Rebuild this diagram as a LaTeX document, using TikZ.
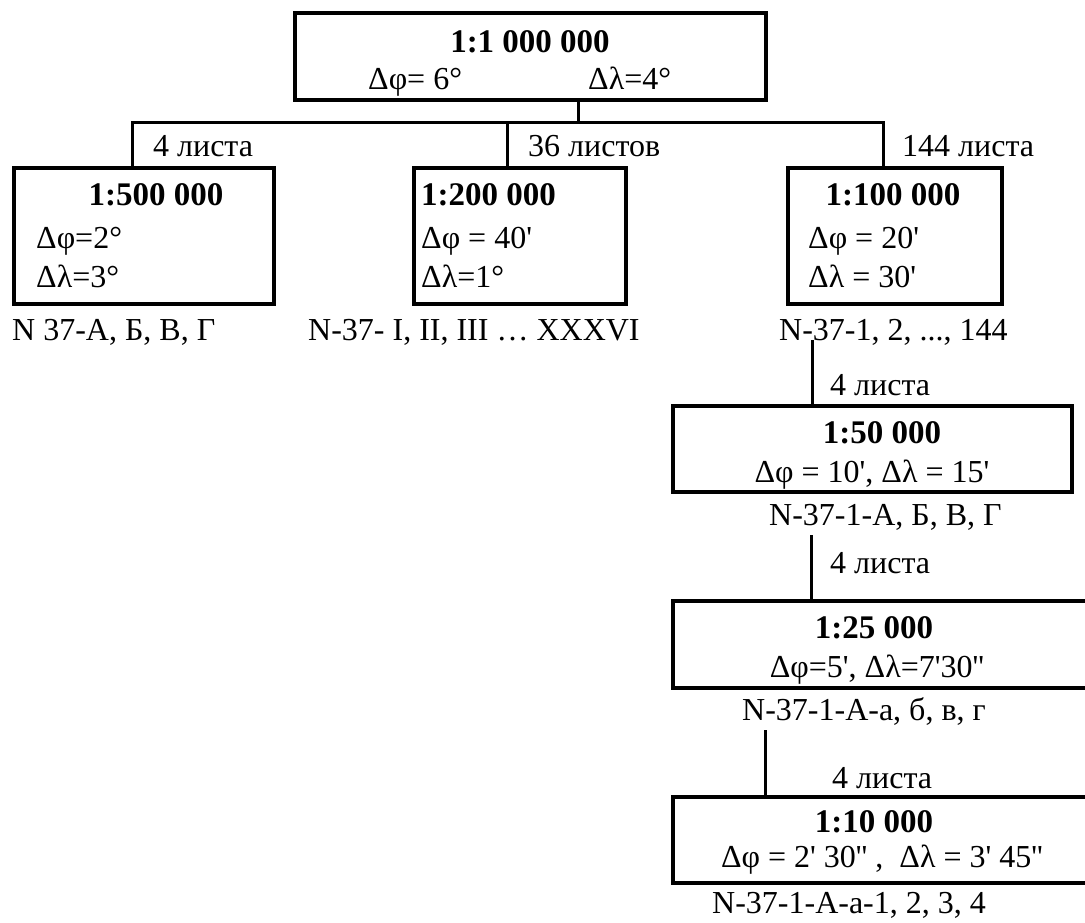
\documentclass[tikz,border=0pt]{standalone}
\usepackage{fontspec}
\setmainfont{Liberation Serif}[Ligatures=TeXOff]
\begin{document}
\begin{tikzpicture}[x=1pt,y=-1pt,
    box/.style={draw,line width=3.5pt,inner sep=0pt},
    link/.style={line width=3pt},
    txt/.style={inner sep=0pt,font=\fontsize{32}{38}\selectfont},
    head/.style={inner sep=0pt,font=\fontsize{33}{39}\selectfont\bfseries}]
  \useasboundingbox (0,0) rectangle (1085,923);
  % boxes
  \node[box,minimum width=471pt,minimum height=87pt] (m1M) at (530.5,56.5) {};
  \node[box,minimum width=260pt,minimum height=136pt] (m500) at (144,236) {};
  \node[box,minimum width=212pt,minimum height=136pt] (m200) at (520,236) {};
  \node[box,minimum width=214pt,minimum height=136pt] (m100) at (895,236) {};
  \node[box,minimum width=399pt,minimum height=86pt] (m50) at (872.5,449) {};
  \node[box,minimum width=437pt,minimum height=87pt] (m25) at (891.5,644.5) {};
  \node[box,minimum width=437pt,minimum height=86pt] (m10) at (891.5,840) {};
  % texts in the boxes
  \node[head,anchor=base] (h1M) at (530,53) {1:1 000 000};
  \node[txt,anchor=base west] (p1M) at (368,90) {Δφ= 6°};
  \node[txt,anchor=base west] (l1M) at (588,90) {Δλ=4°};
  \node[head,anchor=base] (h500) at (156,205) {1:500 000};
  \node[txt,anchor=base west] (p500) at (36,248) {Δφ=2°};
  \node[txt,anchor=base west] (l500) at (36,287) {Δλ=3°};
  \node[head,anchor=base west] (h200) at (421,205) {1:200 000};
  \node[txt,anchor=base west] (p200) at (421,248) {Δφ = 40'};
  \node[txt,anchor=base west] (l200) at (421,287) {Δλ=1°};
  \node[head,anchor=base] (h100) at (893,205) {1:100 000};
  \node[txt,anchor=base west] (p100) at (808,248) {Δφ = 20'};
  \node[txt,anchor=base west] (l100) at (808,287) {Δλ = 30'};
  \node[head,anchor=base] (h50) at (882,443) {1:50 000};
  \node[txt,anchor=base] (d50) at (872,482) {Δφ = 10', Δλ = 15'};
  \node[head,anchor=base] (h25) at (874,638) {1:25 000};
  \node[txt,anchor=base] (d25) at (877,677) {Δφ=5', Δλ=7'30''};
  \node[head,anchor=base] (h10) at (874,832) {1:10 000};
  \node[txt,anchor=base] (d10) at (882,867) {Δφ = 2' 30'' ,\ \ Δλ = 3' 45''};
  % sheet names
  \node[txt,anchor=base west] (s500) at (12,340) {N 37-А, Б, В, Г};
  \node[txt,anchor=base west] (s200) at (308,340) {N-37- I, II, III … XXXVI};
  \node[txt,anchor=base west] (s100) at (779,340) {N-37-1, 2, ..., 144};
  \node[txt,anchor=base west] (s50) at (769,525) {N-37-1-А, Б, В, Г};
  \node[txt,anchor=base west] (s25) at (742,720) {N-37-1-А-а, б, в, г};
  \node[txt,anchor=base west] (s10) at (712,913) {N-37-1-А-а-1, 2, 3, 4};
  % sheet counts
  \foreach \x/\y/\v [count=\i] in {153/157/4 листа, 528/157/36 листов, 902/157/144 листа,
      830/395/4 листа, 830/573/4 листа, 832/788/4 листа}{
    \node[txt,anchor=base west] (n\i) at (\x,\y) {\v};
  }
  % connectors
  \coordinate (busL) at (132,123);
  \coordinate (busM) at (507,123);
  \coordinate (busR) at (883,123);
  \coordinate (stem) at (578,123);
  \draw[link] (m1M.south -| stem) -- (stem);
  \draw[link] (m500.north -| busL) -- (busL) -- (busR) -- (m100.north -| busR);
  \draw[link] (busM) -- (m200.north -| busM);
  \coordinate (c50) at (812,340);
  \coordinate (c25) at (811,535);
  \coordinate (c10) at (765,730);
  \draw[link] (c50) -- (m50.north -| c50);
  \draw[link] (c25) -- (m25.north -| c25);
  \draw[link] (c10) -- (m10.north -| c10);
\end{tikzpicture}
\end{document}
